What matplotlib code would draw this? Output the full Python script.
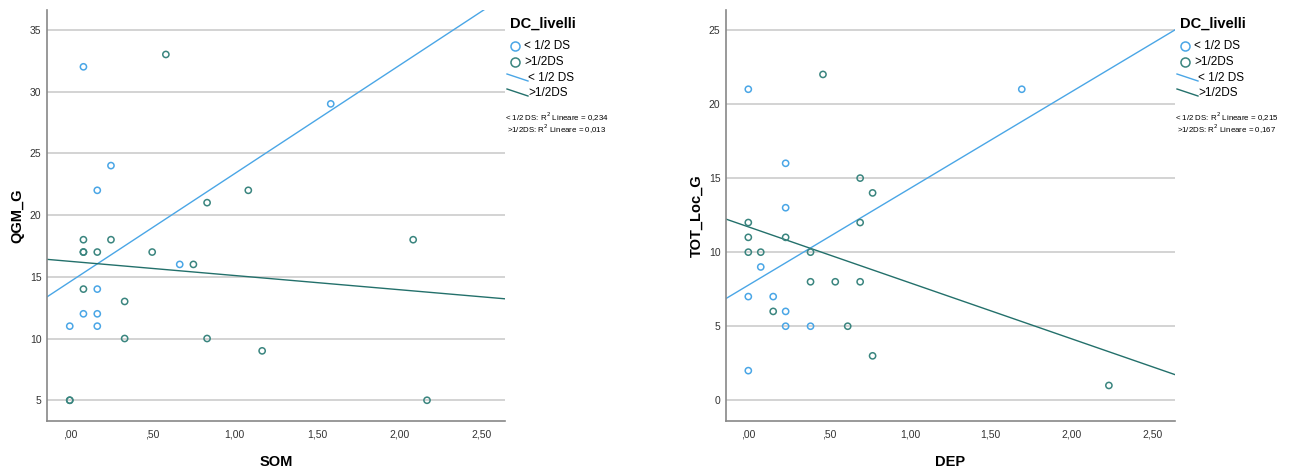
import matplotlib
matplotlib.use('Agg')
import matplotlib.pyplot as plt
import numpy as np
from matplotlib.lines import Line2D

plt.rcParams['font.family'] = ['Liberation Sans', 'DejaVu Sans']

BLUE = '#4AA6E6'
TEAL = '#3A857F'
TEAL_LINE = '#23706B'

groups = ['< 1/2 DS', '>1/2DS']

# SOM vs QGM_G
som_low = [0.083, 1.583, 0.25, 0.167, 0.667, 0.167, 0.083, 0.167, 0.0, 0.167]
qgm_low = [32, 29, 24, 22, 16, 14, 12, 12, 11, 11]
som_high = [0.583, 0.833, 1.083, 0.083, 0.25, 2.083, 0.083, 0.083, 0.167, 0.5,
            0.75, 0.083, 0.333, 0.333, 0.833, 1.167, 0.0, 0.0, 2.167]
qgm_high = [33, 21, 22, 18, 18, 18, 17, 17, 17, 17,
            16, 14, 13, 10, 10, 9, 5, 5, 5]
# fitted lines (intercept, slope) and R2
fit_som = [(14.58, 8.77), (16.25, -1.15)]
r2_som = ['0,234', '0,013']

# DEP vs TOT_Loc_G
dep_low = [0.0, 1.692, 0.231, 0.231, 0.077, 0.0, 0.154, 0.231, 0.231, 0.385, 0.0]
tot_low = [21, 21, 16, 13, 9, 7, 7, 6, 5, 5, 2]
dep_high = [0.462, 0.692, 0.769, 0.0, 0.692, 0.0, 0.231, 0.0, 0.077, 0.385,
            0.385, 0.538, 0.692, 0.154, 0.615, 0.769, 2.231]
tot_high = [22, 15, 14, 12, 12, 11, 11, 10, 10, 10,
            8, 8, 8, 6, 5, 3, 1]
fit_dep = [(7.77, 6.53), (11.71, -3.78)]
r2_dep = ['0,215', '0,167']

xticks = [0, 0.5, 1.0, 1.5, 2.0, 2.5]
xticklabels = [',00', ',50', '1,00', '1,50', '2,00', '2,50']

W, H = 1296, 471


def fx(px):
    return px / W


def fy(py):
    return 1 - py / H


def draw_legend(fig, x0, r2):
    # legend block drawn in figure pixels, x0 = left edge of the title
    fig.text(fx(x0), fy(24), 'DC_livelli', fontsize=10.5, fontweight='bold', va='center')
    cols = [BLUE, TEAL]
    lcols = [BLUE, TEAL_LINE]
    for i, (lab, c) in enumerate(zip(groups, cols)):
        y = [46, 62][i]
        fig.lines.append(Line2D([fx(x0 + 5)], [fy(y)], transform=fig.transFigure, ls='none',
                                marker='o', ms=6.5, mfc='none', mec=c, mew=1.1))
        fig.text(fx(x0 + 14), fy(y), lab, fontsize=8.5, va='center')
    for i, (lab, c) in enumerate(zip(groups, lcols)):
        y = [78, 93][i]
        fig.lines.append(Line2D([fx(x0 - 3), fx(x0 + 18)], [fy(y - 4), fy(y + 3)],
                                transform=fig.transFigure, color=c, lw=1.0))
        fig.text(fx(x0 + 18), fy(y), lab, fontsize=8.5, va='center')
    fig.text(fx(x0 - 5), fy(117), f'< 1/2 DS: R$^2$ Lineare = {r2[0]}', fontsize=5.7, va='center')
    fig.text(fx(x0 - 3), fy(129), f'>1/2DS: R$^2$ Lineare = {r2[1]}', fontsize=5.7, va='center')


def scatter_panel(ax, xs, ys, fits, xlabel, ylabel, yticks, ylim):
    xlim = (-0.138, 2.64)
    ax.set_xlim(xlim)
    ax.set_ylim(ylim)
    for yt in yticks:
        ax.axhline(yt, color='#c8c8c8', lw=1.1, zorder=0)
    cols = [BLUE, TEAL]
    lcols = [BLUE, TEAL_LINE]
    for x, y, c in zip(xs, ys, cols):
        ax.scatter(x, y, s=20, facecolors='none', edgecolors=c, linewidths=1.1, zorder=3)
    xx = np.array(xlim)
    for (b0, b1), c in zip(fits, lcols):
        ax.plot(xx, b0 + b1 * xx, color=c, lw=1.0, zorder=2)
    ax.set_xticks(xticks)
    ax.set_xticklabels(xticklabels)
    ax.set_yticks(yticks)
    ax.tick_params(length=0, labelsize=7.5, colors='#333333', pad=4)
    ax.tick_params(axis='x', pad=6)
    for s in ['top', 'right']:
        ax.spines[s].set_visible(False)
    for s in ['left', 'bottom']:
        ax.spines[s].set_color('#888888')
        ax.spines[s].set_linewidth(1.2)
    ax.set_xlabel(xlabel, fontsize=10.5, fontweight='bold', labelpad=11)
    ax.set_ylabel(ylabel, fontsize=10.5, fontweight='bold', labelpad=4)


fig = plt.figure(figsize=(12.96, 4.71), dpi=100)
ax1 = fig.add_axes([47 / W, 50 / H, 458 / W, 411 / H])
ax2 = fig.add_axes([726 / W, 50 / H, 449 / W, 411 / H])

scatter_panel(ax1, [som_low, som_high], [qgm_low, qgm_high], fit_som,
              'SOM', 'QGM_G', [5, 10, 15, 20, 25, 30, 35], (3.32, 36.6))
scatter_panel(ax2, [dep_low, dep_high], [tot_low, tot_high], fit_dep,
              'DEP', 'TOT_Loc_G', [0, 5, 10, 15, 20, 25], (-1.4, 26.35))

draw_legend(fig, 510, r2_som)
draw_legend(fig, 1180, r2_dep)

fig.savefig('out.png', dpi=100)
